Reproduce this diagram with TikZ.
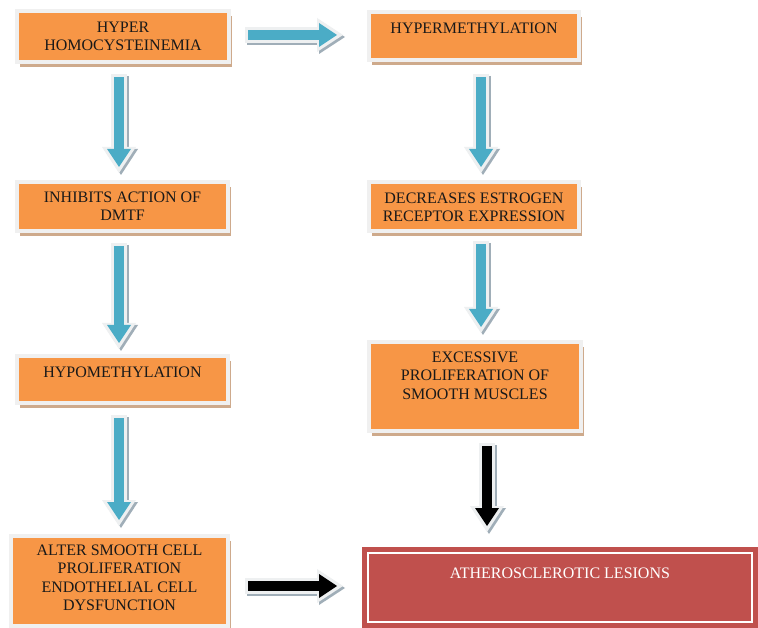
\documentclass[tikz,border=0pt]{standalone}
\usepackage{fontspec}
\setmainfont{Liberation Serif}
\usetikzlibrary{arrows.meta,calc,shadows}
\definecolor{boxorange}{RGB}{247,150,70}
\definecolor{boxframe}{RGB}{240,240,240}
\definecolor{boxtan}{RGB}{206,170,140}
\definecolor{boxred}{RGB}{192,80,77}
\definecolor{arrblue}{RGB}{75,172,198}
\definecolor{arrrim}{RGB}{238,240,241}
\definecolor{arrshadow}{RGB}{160,174,184}
\definecolor{txtdark}{RGB}{25,25,25}
\tikzset{
  flowbox/.style={fill=boxorange, draw=boxframe, line width=4pt, inner sep=0pt, outer sep=0pt,
    text=txtdark, font=\fontsize{16}{18.3}\selectfont,
    drop shadow={shadow xshift=3pt, shadow yshift=-5pt, fill=boxtan, opacity=1}},
  redbox/.style={fill=boxred, draw=none, inner sep=0pt, outer sep=0pt,
    text=white, font=\fontsize{16}{18.3}\selectfont},
  arrowshadow/.style={draw=arrshadow, line width=16pt,
    -{Triangle[width=34pt,length=26pt,line width=0pt]},
    transform canvas={shift={(2pt,-2pt)}}},
  arrowrim/.style={draw=arrrim, line width=16pt,
    -{Triangle[width=34pt,length=26pt,line width=0pt]}},
  arrowcore/.style={draw=#1, line width=10pt,
    -{Triangle[width=24pt,length=18pt,line width=0pt]},
    shorten >=6pt, shorten <=3pt}
}
% #1 name, #2 position, #3 width, #4 height, #5 top gap, #6 text
\newcommand{\mkbox}[6]{%
  \node[flowbox] (#1) at (#2) {\parbox[c][#4pt][t]{#3pt}{\centering\vspace*{#5pt}#6}};}
% #1 colour, #2 start, #3 end
\newcommand{\blockarrow}[3]{%
  \draw[arrowshadow] #2 -- #3;
  \draw[arrowrim] #2 -- #3;
  \draw[arrowcore=#1] #2 -- #3;}
\begin{document}
\begin{tikzpicture}[x=1pt,y=-1pt]
\fill[white] (0,0) rectangle (758,628);
\useasboundingbox (0,0) rectangle (758,628);

\mkbox{n1}{123,37}{212}{51}{10.5}{HYPER\\HOMOCYSTEINEMIA}
\mkbox{n2}{474,36}{210}{48}{10.5}{HYPERMETHYLATION}
\mkbox{n3}{122.5,206.5}{211}{49}{10}{INHIBITS ACTION OF\\DMTF}
\mkbox{n4}{474,206.5}{210}{49}{10.5}{DECREASES ESTROGEN\\RECEPTOR EXPRESSION}
\mkbox{n5}{122.5,379.5}{211}{47}{10.5}{HYPOMETHYLATION}
\mkbox{n6}{475,386.5}{212}{89}{10}{EXCESSIVE\\PROLIFERATION OF\\SMOOTH MUSCLES}
\mkbox{n7}{119.5,581}{217}{90}{9}{ALTER SMOOTH CELL\\PROLIFERATION\\ENDOTHELIAL CELL\\DYSFUNCTION}

\node[redbox] (n8) at (560,587.5) {\parbox[c][81pt][t]{396pt}{\centering\vspace*{21pt}ATHEROSCLEROTIC LESIONS}};
\draw[white, line width=2pt] ($(n8.north west)+(6,6)$) rectangle ($(n8.south east)+(-6,-6)$);

% connectors
\blockarrow{arrblue}{($(n1.east)+(16,-2)$)}{($(n2.west)+(-26,-1)$)}
\blockarrow{arrblue}{($(n1.south)+(-4,12)$)}{($(n3.north)+(-3.5,-9)$)}
\blockarrow{arrblue}{($(n3.south)+(-3.5,12)$)}{($(n5.north)+(-3.5,-7)$)}
\blockarrow{arrblue}{($(n5.south)+(-3.5,12)$)}{($(n7.north)+(-0.5,-10)$)}
\blockarrow{arrblue}{($(n2.south)+(7,14)$)}{($(n4.north)+(7,-9)$)}
\blockarrow{arrblue}{($(n4.south)+(7,10)$)}{($(n6.north)+(6,-9)$)}
\blockarrow{black}{($(n6.south)+(12,12)$)}{($(n8.north)+(-73,-15)$)}
\blockarrow{black}{($(n7.east)+(17,5)$)}{($(n8.west)+(-19,-1.5)$)}
\end{tikzpicture}
\end{document}
